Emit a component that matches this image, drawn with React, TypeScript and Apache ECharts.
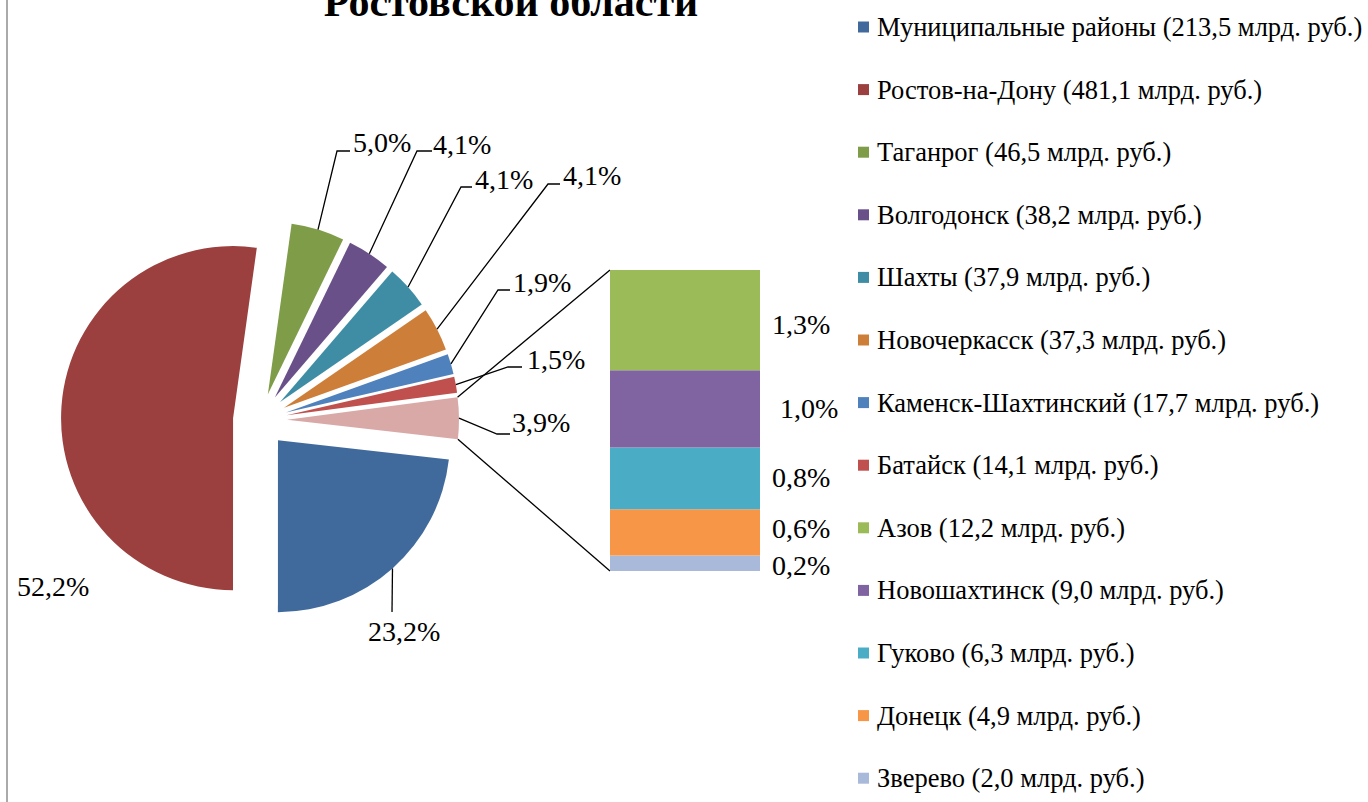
import React, { useEffect, useRef } from 'react';
import * as echarts from 'echarts';

// ---- data ----
const categories = [
  'Муниципальные районы',
  'Ростов-на-Дону',
  'Таганрог',
  'Волгодонск',
  'Шахты',
  'Новочеркасск',
  'Каменск-Шахтинский',
  'Батайск',
  'Азов',
  'Новошахтинск',
  'Гуково',
  'Донецк',
  'Зверево',
];
const amounts = [213.5, 481.1, 46.5, 38.2, 37.9, 37.3, 17.7, 14.1, 12.2, 9.0, 6.3, 4.9, 2.0];
const shares = [23.2, 52.2, 5.0, 4.1, 4.1, 4.1, 1.9, 1.5, 1.3, 1.0, 0.8, 0.6, 0.2];
const PIE_COUNT = 8; // the rest are shown in the bar ("Прочие")
const OTHER_NAME = 'Прочие';
const TITLE = 'Ростовской области';

// ---- styles / layout ----
const pieColors = ['#416a9c', '#9b403e', '#7f9c49', '#6a5089', '#3e8da4', '#cd7e38', '#4f81bd', '#c0504d', '#d9a9a8'];
const barColors = ['#9bbb59', '#8064a2', '#4bacc6', '#f79646', '#a9b9d9'];
const FONT = 'Liberation Serif, Times New Roman, Times, serif';
const CX = 260;
const CY = 420;
const R = 172;
const EXPLODE = 27;
const FIRST_ANGLE = 96.5; // clockwise from 12 o'clock
const BAR = { left: 610, top: 270, width: 150, height: 301 };
const pieLabelPos: number[][] = [
  [368, 631], [17, 586], [353, 142], [433, 144], [475, 179], [563, 175], [513, 282], [527, 359], [512, 422],
];
const pieLeader: (number[][] | null)[] = [
  [[392, 612]],
  null,
  [[337, 151], [350, 151]],
  [[417, 151], [432, 151]],
  [[461, 187], [472, 187]],
  [[548, 184], [560, 184]],
  [[498, 290], [510, 290]],
  [[508, 367], [522, 367]],
  [[497, 434], [510, 434]],
];
const barLabelOffset: number[][] = [[0, 4], [8, 0], [0, -1], [0, -4], [0, 2]];

const fmt = (v: number) => v.toFixed(1).replace('.', ',');
const fullName = (i: number) => `${categories[i]} (${fmt(amounts[i])} млрд. руб.)`;

export default function App() {
  const ref = useRef<HTMLDivElement>(null);
  useEffect(() => {
    document.body.style.margin = '0';
    if (!ref.current) return;
    const chart = echarts.init(ref.current, null, { renderer: 'svg' });

    const otherShares = shares.slice(PIE_COUNT);
    const otherSum = otherShares.reduce((a, b) => a + b, 0);
    const pieValues = [...shares.slice(0, PIE_COUNT), otherSum];
    const pieNames = [...categories.slice(0, PIE_COUNT).map((_, i) => fullName(i)), OTHER_NAME];
    const total = pieValues.reduce((a, b) => a + b, 0);

    // geometry of exploded slices (angles clockwise from 12 o'clock)
    const rad = (d: number) => (d * Math.PI) / 180;
    const geom = pieValues.map((v, i) => {
      const before = pieValues.slice(0, i).reduce((a, b) => a + b, 0);
      const start = FIRST_ANGLE + (before / total) * 360;
      const end = start + (v / total) * 360;
      const mid = (start + end) / 2;
      const cx = CX + EXPLODE * Math.sin(rad(mid));
      const cy = CY - EXPLODE * Math.cos(rad(mid));
      const pt = (d: number) => [cx + R * Math.sin(rad(d)), cy - R * Math.cos(rad(d))];
      return { start, end, mid, arcMid: pt(mid), startPt: pt(start), endPt: pt(end) };
    });

    const pieData = pieValues.map((v, i) => ({
      name: pieNames[i],
      value: v,
      selected: true,
      itemStyle: { color: pieColors[i] },
    }));

    const barSeries = otherShares
      .map((v, k) => ({ v, k }))
      .reverse()
      .map(({ v, k }) => ({
        type: 'bar',
        name: fullName(PIE_COUNT + k),
        stack: 'other',
        data: [v],
        barWidth: BAR.width,
        itemStyle: { color: barColors[k] },
        label: {
          show: true,
          position: 'right',
          distance: 12,
          offset: barLabelOffset[k],
          formatter: () => fmt(v) + '%',
          fontFamily: FONT,
          fontSize: 28,
          color: '#000',
        },
      }));

    const otherGeom = geom[PIE_COUNT];

    const pieLabelGraphics: any[] = [];
    pieValues.forEach((v, i) => {
      const ld = pieLeader[i];
      if (ld) {
        pieLabelGraphics.push({
          type: 'polyline',
          shape: { points: [geom[i].arcMid, ...ld] },
          style: { stroke: '#000', lineWidth: 1.3, fill: 'none' },
          z: 10,
        });
      }
      pieLabelGraphics.push({
        type: 'text',
        x: pieLabelPos[i][0],
        y: pieLabelPos[i][1],
        z: 10,
        style: {
          text: fmt(v) + '%',
          fontFamily: FONT,
          fontSize: 28,
          fill: '#000',
          textAlign: 'left',
          textVerticalAlign: 'middle',
        },
      });
    });

    chart.setOption({
      animation: false,
      backgroundColor: '#fff',
      graphic: [
        {
          type: 'line',
          shape: { x1: 7, y1: 0, x2: 7, y2: 802 },
          style: { stroke: '#8e8e8e', lineWidth: 1.5 },
        },
        {
          type: 'text',
          x: 511,
          y: 2,
          style: {
            text: TITLE,
            fontFamily: FONT,
            fontWeight: 'bold',
            fontSize: 42,
            fill: '#000',
            textAlign: 'center',
            textVerticalAlign: 'middle',
          },
        },
        {
          type: 'line',
          shape: { x1: otherGeom.startPt[0], y1: otherGeom.startPt[1], x2: BAR.left, y2: BAR.top },
          style: { stroke: '#000', lineWidth: 1.3 },
        },
        {
          type: 'line',
          shape: { x1: otherGeom.endPt[0], y1: otherGeom.endPt[1], x2: BAR.left, y2: BAR.top + BAR.height },
          style: { stroke: '#000', lineWidth: 1.3 },
        },
        ...pieLabelGraphics,
      ],
      legend: {
        orient: 'vertical',
        left: 858,
        top: 13,
        padding: 0,
        itemWidth: 11,
        itemHeight: 11,
        itemGap: 34.6,
        icon: 'rect',
        data: categories.map((_, i) => fullName(i)),
        textStyle: { fontFamily: FONT, fontSize: 26.5, color: '#000', lineHeight: 28, padding: [0, 0, 0, 3] },
        selectedMode: false,
      },
      grid: { left: BAR.left, top: BAR.top, width: BAR.width, height: BAR.height },
      xAxis: { type: 'category', data: [OTHER_NAME], show: false },
      yAxis: { type: 'value', min: 0, max: otherSum, show: false },
      series: [
        {
          type: 'pie',
          center: [CX, CY],
          radius: R,
          startAngle: (90 - FIRST_ANGLE + 360) % 360,
          clockwise: true,
          selectedMode: 'multiple',
          selectedOffset: EXPLODE,
          avoidLabelOverlap: false,
          emphasis: { disabled: true },
          data: pieData,
          label: { show: false },
          labelLine: { show: false },
        },
        ...barSeries,
      ],
    });
    return () => chart.dispose();
  }, []);
  return <div ref={ref} style={{ width: 1368, height: 802 }} />;
}
